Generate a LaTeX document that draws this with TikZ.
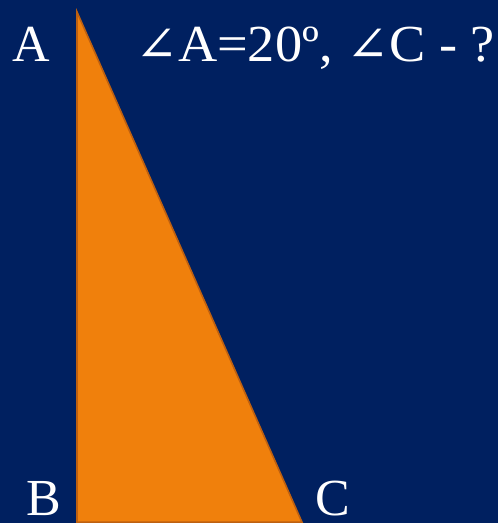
\documentclass[tikz,border=0pt]{standalone}
\usepackage{fontspec}
\setmainfont{Liberation Serif}
\newfontfamily\symfont{DejaVu Serif}
\definecolor{bgblue}{RGB}{0,32,96}
\definecolor{triorange}{RGB}{240,128,12}
\definecolor{triedge}{RGB}{190,96,16}
\begin{document}
\begin{tikzpicture}[x=1pt,y=1pt,
  lbl/.style={text=white,inner sep=0pt,font=\fontsize{52}{52}\selectfont},
  tri/.style={fill=triorange,draw=triedge,line width=1.6pt,line join=miter}]
\fill[bgblue] (0,0) rectangle (498,523);
\useasboundingbox (0,0) rectangle (498,523);
\coordinate (A) at (77,511);
\coordinate (B) at (77,0.8);
\coordinate (C) at (302,0.8);
\draw[tri] (A) -- (B) -- (C) -- cycle;
\node[lbl,anchor=base west] (la) at (12,461) {A};
\node[lbl,anchor=base west] (lb) at (26,7) {B};
\node[lbl,anchor=base west] (lc) at (315,7) {C};
\node[lbl,anchor=base west] (q) at (135,461) {\scalebox{1.045}[1]{{\symfont\fontsize{49}{49}\selectfont ∠}A=20º, {\symfont\fontsize{49}{49}\selectfont ∠}C - ?}};
\end{tikzpicture}
\end{document}
